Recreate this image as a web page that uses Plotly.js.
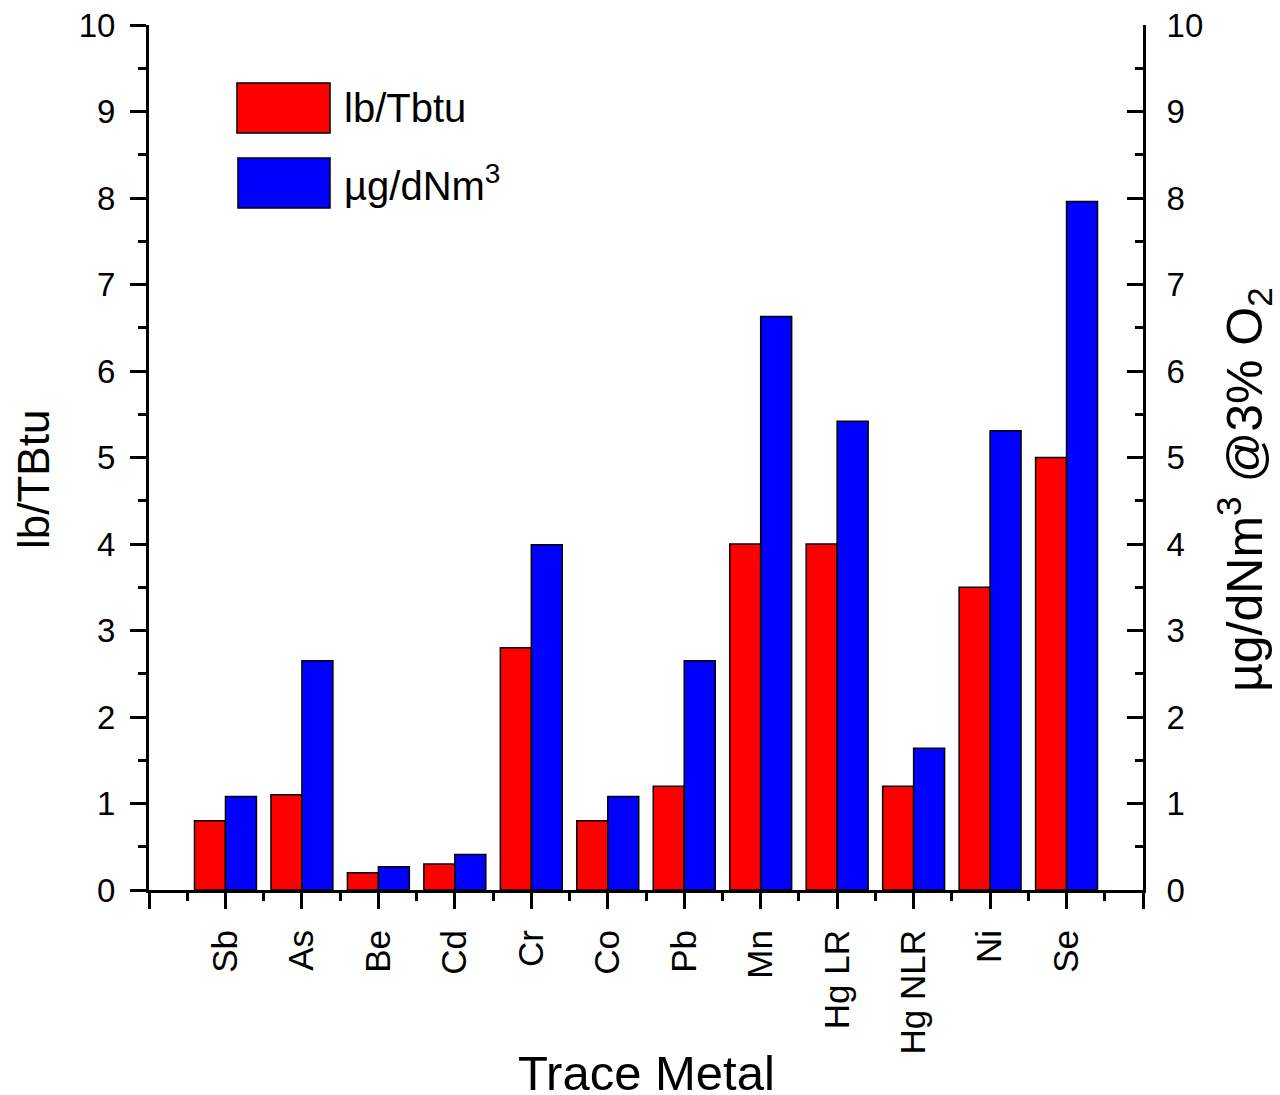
<!DOCTYPE html>
<html>
<head>
<meta charset="utf-8">
<script src="https://cdn.plot.ly/plotly-3.0.1.min.js"></script>
<style>html,body{margin:0;padding:0;background:#fff;}#chart{width:1280px;height:1095px;}</style>
</head>
<body>
<div id="chart"></div>
<script>
const categories = ["Sb", "As", "Be", "Cd", "Cr", "Co", "Pb", "Mn", "Hg LR", "Hg NLR", "Ni", "Se"];
const lbPerTbtu = [0.8, 1.1, 0.2, 0.3, 2.8, 0.8, 1.2, 4.0, 4.0, 1.2, 3.5, 5.0];
const ugPerDNm3 = [1.08, 2.65, 0.27, 0.41, 3.99, 1.08, 2.65, 6.63, 5.42, 1.64, 5.31, 7.96];
const seriesNames = ["lb/Tbtu", "µg/dNm<sup>3</sup>"];
const yTicks = [0, 1, 2, 3, 4, 5, 6, 7, 8, 9, 10];

const FONT = "Liberation Sans, Arial, sans-serif";
const xIdx = categories.map((_, i) => i);
const xTickVals = [-1].concat(xIdx, [categories.length]);
const xTickText = [" "].concat(categories, [" "]);

const traces = [
  {type: "bar", name: seriesNames[0], x: xIdx, y: lbPerTbtu, width: 0.405, offset: -0.405,
   marker: {color: "#ff0000", line: {color: "#000000", width: 1.5}}, xaxis: "x", yaxis: "y", showlegend: false},
  {type: "bar", name: seriesNames[1], x: xIdx, y: ugPerDNm3, width: 0.405, offset: 0,
   marker: {color: "#0000ff", line: {color: "#000000", width: 1.5}}, xaxis: "x", yaxis: "y2", showlegend: false}
];

const axisCommon = {showgrid: false, zeroline: false, showline: true, linecolor: "#000", linewidth: 3,
  tickcolor: "#000", tickwidth: 3, ticklen: 16, tickfont: {family: FONT, size: 33, color: "#000"}};

const layout = {
  width: 1280, height: 1095,
  margin: {l: 149, r: 137, t: 25, b: 205},
  paper_bgcolor: "#fff", plot_bgcolor: "#fff",
  font: {family: FONT, color: "#000"},
  barmode: "overlay",
  showlegend: false,
  xaxis: Object.assign({}, axisCommon, {
    range: [-1, categories.length], tickmode: "array", tickvals: xTickVals, ticktext: xTickText,
    ticks: "outside", tickangle: -90, ticklabelstandoff: 7,
    tickfont: {family: FONT, size: 35, color: "#000"},
    minor: {tick0: -0.5, dtick: 1, ticks: "outside", ticklen: 8, tickwidth: 3, tickcolor: "#000"}
  }),
  yaxis: Object.assign({}, axisCommon, {
    range: [0, 10], tickmode: "array", tickvals: yTicks, ticks: "outside", ticklabelstandoff: 8,
    minor: {dtick: 0.5, ticks: "outside", ticklen: 8, tickwidth: 3, tickcolor: "#000"}
  }),
  yaxis2: Object.assign({}, axisCommon, {
    range: [0, 10], tickmode: "array", tickvals: yTicks, ticks: "inside", side: "right", overlaying: "y",
    ticklabelstandoff: 14,
    minor: {dtick: 0.5, ticks: "inside", ticklen: 8, tickwidth: 3, tickcolor: "#000"}
  }),
  shapes: [
    {type: "rect", xref: "paper", yref: "paper", x0: 0.0885, x1: 0.1821, y0: 0.8751, y1: 0.9329,
     fillcolor: "#ff0000", line: {color: "#000", width: 1.5}},
    {type: "rect", xref: "paper", yref: "paper", x0: 0.0895, x1: 0.1821, y0: 0.7884, y1: 0.8462,
     fillcolor: "#0000ff", line: {color: "#000", width: 1.5}}
  ],
  annotations: [
    {xref: "paper", yref: "paper", x: 0.1942, y: 0.904, xanchor: "left", yanchor: "middle", showarrow: false,
     text: seriesNames[0], font: {family: FONT, size: 40, color: "#000"}},
    {xref: "paper", yref: "paper", x: 0.1942, y: 0.8173, xanchor: "left", yanchor: "middle", showarrow: false,
     text: seriesNames[1], font: {family: FONT, size: 40, color: "#000"}},
    {xref: "paper", yref: "paper", x: 0.5, y: 0, xanchor: "center", yanchor: "top", yshift: -154, showarrow: false,
     text: "Trace Metal", font: {family: FONT, size: 49, color: "#000"}},
    {xref: "paper", yref: "paper", x: 0, y: 0.474, xanchor: "center", yanchor: "middle", xshift: -115,
     textangle: -90, showarrow: false, text: "lb/TBtu", font: {family: FONT, size: 44, color: "#000"}},
    {xref: "paper", yref: "paper", x: 1, y: 0.4624, xanchor: "center", yanchor: "middle", xshift: 101,
     textangle: -90, showarrow: false, text: "µg/dNm<sup>3</sup> @3% O<sub>2</sub>",
     font: {family: FONT, size: 50, color: "#000"}}
  ]
};

Plotly.newPlot("chart", traces, layout, {displayModeBar: false, staticPlot: true});
</script>
</body>
</html>
